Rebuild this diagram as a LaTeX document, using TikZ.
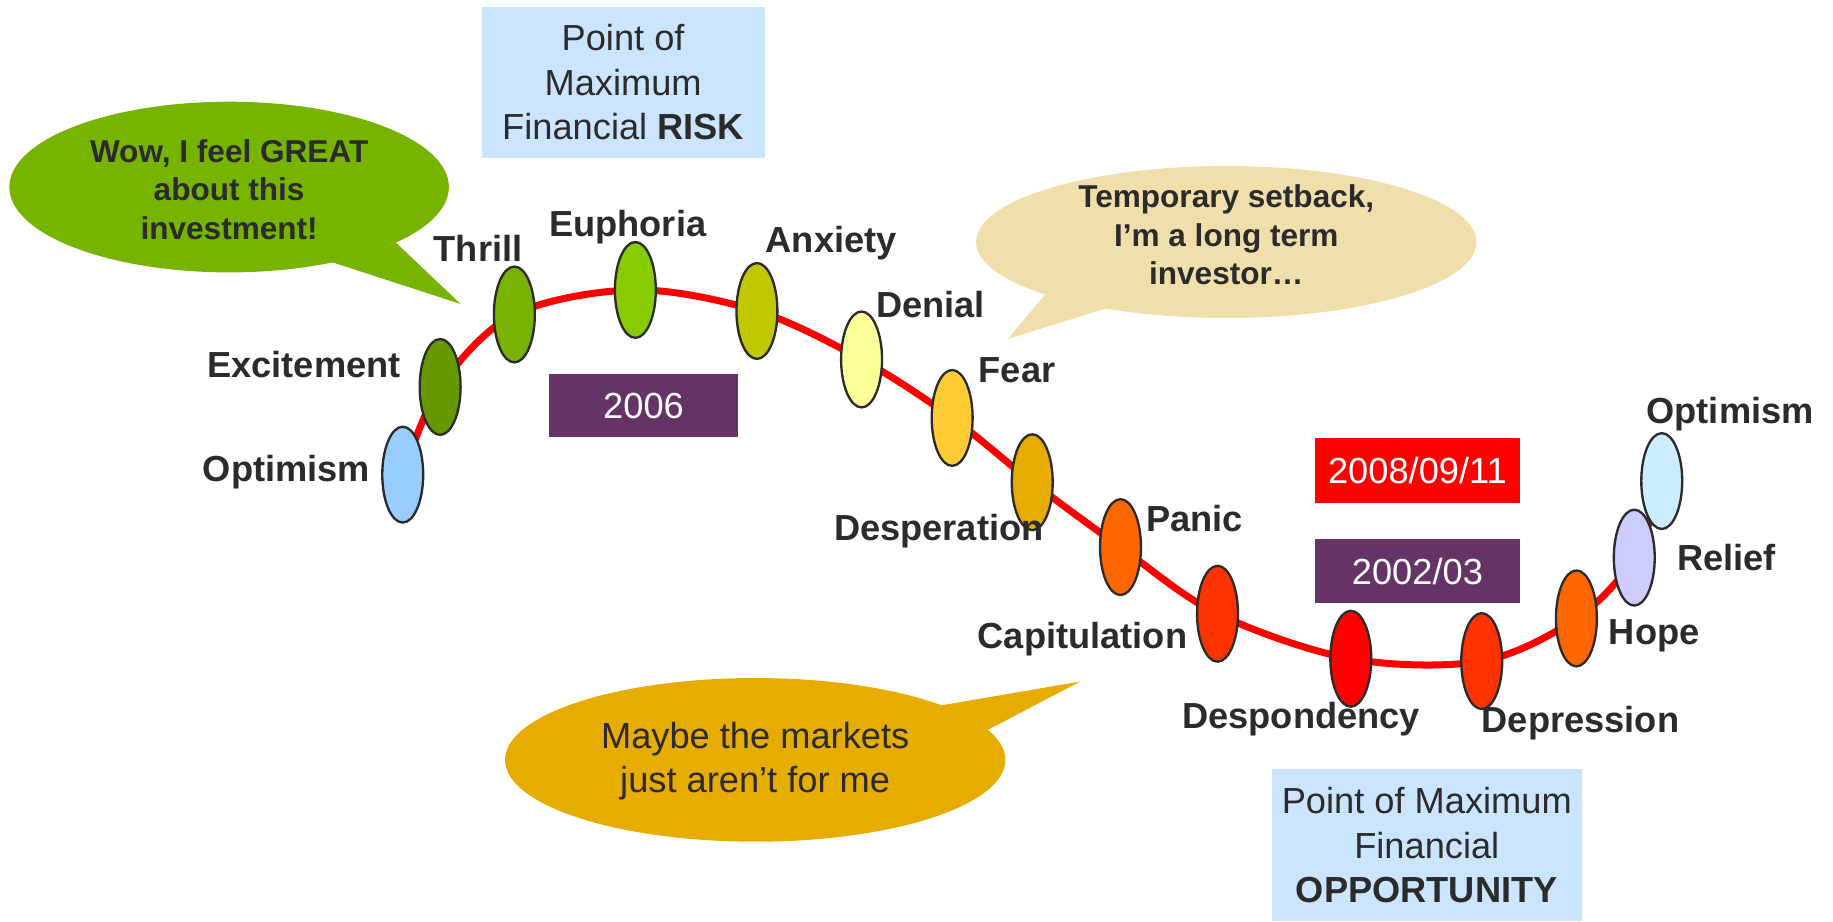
\documentclass[tikz,border=0pt]{standalone}
\usepackage{fontspec}
\setmainfont{Liberation Sans}
\usetikzlibrary{shapes.geometric}
\definecolor{txt}{HTML}{2B2B2B}
\definecolor{boxblue}{HTML}{CCE5FF}
\definecolor{plum}{HTML}{663366}
\definecolor{bgreen}{HTML}{76B400}
\definecolor{bwheat}{HTML}{F0DFAA}
\definecolor{bgold}{HTML}{E6AC00}
\definecolor{cA}{HTML}{99CCFF}
\definecolor{cB}{HTML}{669900}
\definecolor{cC}{HTML}{77B300}
\definecolor{cD}{HTML}{88CC00}
\definecolor{cE}{HTML}{BFC800}
\definecolor{cF}{HTML}{FFFF99}
\definecolor{cG}{HTML}{FFCC33}
\definecolor{cH}{HTML}{E6AC00}
\definecolor{cI}{HTML}{FF6600}
\definecolor{cJ}{HTML}{FF3300}
\definecolor{cK}{HTML}{FF0000}
\definecolor{cL}{HTML}{CCCCFF}
\definecolor{cM}{HTML}{CCECFF}
\begin{document}
\begin{tikzpicture}[x=1pt,y=-1pt,
  emo/.style={ellipse, draw=txt, line width=2pt, minimum width=35pt, minimum height=82pt, inner sep=0pt},
  lbl/.style={font=\fontsize{31}{37}\selectfont\bfseries, text=txt, inner sep=0pt, anchor=base},
  infobox/.style={rectangle, fill=boxblue, inner sep=0pt, align=center, text=txt, font=\fontsize{31}{38}\selectfont},
  datebox/.style={rectangle, inner sep=0pt, text=white, minimum width=175pt, minimum height=55pt, font=\fontsize{31}{37}\selectfont},
  bubble/.style={ellipse, inner sep=0pt},
  bubtxt/.style={font=\fontsize{27}{33}\selectfont\bfseries, align=center, text=txt, inner sep=0pt},
  curve/.style={draw=red, line width=6pt, line cap=round}
]
\useasboundingbox (0,0) rectangle (1568,788);

% speech bubbles
\node[bubble, fill=bgreen, minimum width=376pt, minimum height=146pt] (b1) at (196,160) {};
\coordinate (t1) at (394,260);
\fill[bgreen] (277,222) -- (t1) -- (336,205) -- cycle;
\node[bubtxt] at (196,162) {Wow, I feel GREAT\\about this\\investment!};

\node[bubble, fill=bwheat, minimum width=428pt, minimum height=130pt] (b2) at (1049,207) {};
\coordinate (t2) at (862,290);
\fill[bwheat] (900,245) -- (t2) -- (965,258) -- cycle;
\node[bubtxt] at (1049,201) {Temporary setback,\\I’m a long term\\investor…};

\node[bubble, fill=bgold, minimum width=428pt, minimum height=140pt] (b3) at (646,650) {};
\coordinate (t3) at (924,583);
\fill[bgold] (790,606) -- (t3) -- (838,628) -- cycle;
\node[font=\fontsize{31}{38}\selectfont, align=center, text=txt, inner sep=0pt] at (646,651) {Maybe the markets\\just aren’t for me};

% info boxes
\node[infobox, minimum width=242pt, minimum height=129pt] (risk) at (533,70.5) {Point of\\Maximum\\Financial \textbf{RISK}};
\node[infobox, minimum width=265pt, minimum height=130pt] (opp) at (1220.5,723) {Point of Maximum\\Financial\\\textbf{OPPORTUNITY}};

% date boxes
\node[datebox, fill=plum, minimum width=161pt, minimum height=54pt] (d2006) at (550.5,347) {2006};
\node[datebox, fill=red] (d2008) at (1212.5,402.5) {2008/09/11};
\node[datebox, fill=plum] (d2002) at (1212.5,488.5) {2002/03};

% curve points
\coordinate (p1) at (344.5,406);
\coordinate (p2) at (376.5,331);
\coordinate (p3) at (440,269);
\coordinate (p4) at (543.5,248);
\coordinate (p5) at (647.5,266);
\coordinate (p6) at (737,307.5);
\coordinate (p7) at (814.5,357.5);
\coordinate (p8) at (883,412.5);
\coordinate (p9) at (958.5,468);
\coordinate (p10) at (1041.5,525);
\coordinate (p11) at (1155.5,563.5);
\coordinate (p12) at (1267.5,565.5);
\coordinate (p13) at (1348.5,529);
\coordinate (p14) at (1398,477);
\coordinate (p15) at (1421.5,411.5);

\draw[curve] plot[smooth, tension=0.55] coordinates {(p1) (p2) (p3) (p4) (p5) (p6) (p7) (p8) (p9) (p10) (p11) (p12) (p13) (p14) (p15)};

\node[emo, fill=cA] (e1) at (p1) {};
\node[emo, fill=cB] (e2) at (p2) {};
\node[emo, fill=cC] (e3) at (p3) {};
\node[emo, fill=cD] (e4) at (p4) {};
\node[emo, fill=cE] (e5) at (p5) {};
\node[emo, fill=cF] (e6) at (p6) {};
\node[emo, fill=cG] (e7) at (p7) {};
\node[emo, fill=cH] (e8) at (p8) {};
\node[emo, fill=cI] (e9) at (p9) {};
\node[emo, fill=cJ] (e10) at (p10) {};
\node[emo, fill=cK] (e11) at (p11) {};
\node[emo, fill=cJ] (e12) at (p12) {};
\node[emo, fill=cI] (e13) at (p13) {};
\node[emo, fill=cL] (e14) at (p14) {};
\node[emo, fill=cM] (e15) at (p15) {};

% labels
\node[lbl] (l1) at (245,412) {Optimism};
\node[lbl] (l2) at (260,323) {Excitement};
\node[lbl] (l3) at (409,224) {Thrill};
\node[lbl] (l4) at (537,202) {Euphoria};
\node[lbl] (l5) at (711,216) {Anxiety};
\node[lbl] (l6) at (796,272) {Denial};
\node[lbl] (l7) at (870,327) {Fear};
\node[lbl] (l8) at (803,462) {Desperation};
\node[lbl] (l9) at (1022,455) {Panic};
\node[lbl] (l10) at (926,555) {Capitulation};
\node[lbl] (l11) at (1113,623) {Despondency};
\node[lbl] (l12) at (1352,627) {Depression};
\node[lbl] (l13) at (1415,551) {Hope};
\node[lbl] (l14) at (1477,488) {Relief};
\node[lbl] (l15) at (1480,362) {Optimism};
\end{tikzpicture}
\end{document}
